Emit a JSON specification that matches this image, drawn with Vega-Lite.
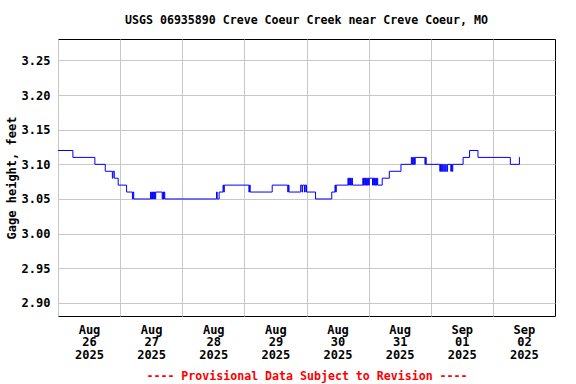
{
  "$schema": "https://vega.github.io/schema/vega-lite/v6.json",
  "width": 497,
  "height": 277,
  "autosize": {"type": "none"},
  "padding": {"left": 58, "top": 39, "right": 21, "bottom": 68},
  "background": "white",
  "title": {
    "text": "USGS 06935890 Creve Coeur Creek near Creve Coeur, MO",
    "font": "DejaVu Sans Mono",
    "fontWeight": "bold",
    "fontSize": 11.6,
    "color": "black",
    "anchor": "middle",
    "baseline": "alphabetic",
    "offset": 3
  },
  "config": {
    "view": {"stroke": "black", "strokeWidth": 1},
    "axis": {
      "labelFont": "DejaVu Sans Mono",
      "labelFontWeight": "bold",
      "labelFontSize": 12,
      "labelColor": "black",
      "titleFont": "DejaVu Sans Mono",
      "titleFontWeight": "bold",
      "titleFontSize": 12,
      "titleColor": "black",
      "gridColor": "#c8c8c8",
      "gridWidth": 1,
      "gridOpacity": 1,
      "ticks": false,
      "domain": false
    }
  },
  "data": {
    "values": [
      {"t": "2025-08-26T00:00", "v": 3.12},
      {"t": "2025-08-26T05:45", "v": 3.11},
      {"t": "2025-08-26T14:15", "v": 3.10},
      {"t": "2025-08-26T18:15", "v": 3.09},
      {"t": "2025-08-26T21:00", "v": 3.08},
      {"t": "2025-08-26T21:15", "v": 3.09},
      {"t": "2025-08-26T21:45", "v": 3.08},
      {"t": "2025-08-26T23:15", "v": 3.07},
      {"t": "2025-08-27T02:30", "v": 3.06},
      {"t": "2025-08-27T04:45", "v": 3.05},
      {"t": "2025-08-27T05:00", "v": 3.06},
      {"t": "2025-08-27T05:15", "v": 3.05},
      {"t": "2025-08-27T11:45", "v": 3.06},
      {"t": "2025-08-27T12:00", "v": 3.05},
      {"t": "2025-08-27T12:15", "v": 3.06},
      {"t": "2025-08-27T12:30", "v": 3.05},
      {"t": "2025-08-27T12:45", "v": 3.06},
      {"t": "2025-08-27T13:00", "v": 3.05},
      {"t": "2025-08-27T13:15", "v": 3.06},
      {"t": "2025-08-27T13:30", "v": 3.05},
      {"t": "2025-08-27T13:45", "v": 3.06},
      {"t": "2025-08-27T16:15", "v": 3.05},
      {"t": "2025-08-27T16:30", "v": 3.06},
      {"t": "2025-08-27T16:45", "v": 3.05},
      {"t": "2025-08-27T17:00", "v": 3.06},
      {"t": "2025-08-27T17:15", "v": 3.05},
      {"t": "2025-08-28T13:15", "v": 3.06},
      {"t": "2025-08-28T13:30", "v": 3.05},
      {"t": "2025-08-28T14:15", "v": 3.06},
      {"t": "2025-08-28T15:45", "v": 3.07},
      {"t": "2025-08-28T16:00", "v": 3.06},
      {"t": "2025-08-28T16:15", "v": 3.07},
      {"t": "2025-08-29T01:45", "v": 3.06},
      {"t": "2025-08-29T02:00", "v": 3.07},
      {"t": "2025-08-29T02:15", "v": 3.06},
      {"t": "2025-08-29T10:45", "v": 3.07},
      {"t": "2025-08-29T16:45", "v": 3.06},
      {"t": "2025-08-29T17:00", "v": 3.07},
      {"t": "2025-08-29T17:15", "v": 3.06},
      {"t": "2025-08-29T21:45", "v": 3.07},
      {"t": "2025-08-29T22:15", "v": 3.06},
      {"t": "2025-08-29T22:30", "v": 3.07},
      {"t": "2025-08-29T23:15", "v": 3.06},
      {"t": "2025-08-29T23:30", "v": 3.07},
      {"t": "2025-08-30T00:00", "v": 3.06},
      {"t": "2025-08-30T03:30", "v": 3.05},
      {"t": "2025-08-30T09:45", "v": 3.06},
      {"t": "2025-08-30T11:00", "v": 3.07},
      {"t": "2025-08-30T11:15", "v": 3.06},
      {"t": "2025-08-30T11:30", "v": 3.07},
      {"t": "2025-08-30T16:00", "v": 3.08},
      {"t": "2025-08-30T16:15", "v": 3.07},
      {"t": "2025-08-30T16:30", "v": 3.08},
      {"t": "2025-08-30T16:45", "v": 3.07},
      {"t": "2025-08-30T17:00", "v": 3.08},
      {"t": "2025-08-30T17:15", "v": 3.07},
      {"t": "2025-08-30T17:30", "v": 3.08},
      {"t": "2025-08-30T17:45", "v": 3.07},
      {"t": "2025-08-30T21:45", "v": 3.08},
      {"t": "2025-08-30T22:00", "v": 3.07},
      {"t": "2025-08-30T22:15", "v": 3.08},
      {"t": "2025-08-30T22:30", "v": 3.07},
      {"t": "2025-08-30T22:45", "v": 3.08},
      {"t": "2025-08-30T23:00", "v": 3.07},
      {"t": "2025-08-30T23:15", "v": 3.08},
      {"t": "2025-08-30T23:30", "v": 3.07},
      {"t": "2025-08-30T23:45", "v": 3.08},
      {"t": "2025-08-31T00:00", "v": 3.07},
      {"t": "2025-08-31T00:15", "v": 3.08},
      {"t": "2025-08-31T01:30", "v": 3.07},
      {"t": "2025-08-31T01:45", "v": 3.08},
      {"t": "2025-08-31T02:00", "v": 3.07},
      {"t": "2025-08-31T02:15", "v": 3.08},
      {"t": "2025-08-31T02:30", "v": 3.07},
      {"t": "2025-08-31T02:45", "v": 3.08},
      {"t": "2025-08-31T03:00", "v": 3.07},
      {"t": "2025-08-31T03:15", "v": 3.08},
      {"t": "2025-08-31T03:30", "v": 3.07},
      {"t": "2025-08-31T05:15", "v": 3.08},
      {"t": "2025-08-31T08:00", "v": 3.09},
      {"t": "2025-08-31T12:30", "v": 3.10},
      {"t": "2025-08-31T16:30", "v": 3.11},
      {"t": "2025-08-31T16:45", "v": 3.10},
      {"t": "2025-08-31T17:00", "v": 3.11},
      {"t": "2025-08-31T17:15", "v": 3.10},
      {"t": "2025-08-31T17:30", "v": 3.11},
      {"t": "2025-08-31T17:45", "v": 3.10},
      {"t": "2025-08-31T18:00", "v": 3.11},
      {"t": "2025-08-31T21:45", "v": 3.10},
      {"t": "2025-08-31T22:00", "v": 3.11},
      {"t": "2025-08-31T22:15", "v": 3.10},
      {"t": "2025-09-01T03:30", "v": 3.09},
      {"t": "2025-09-01T03:45", "v": 3.10},
      {"t": "2025-09-01T04:00", "v": 3.09},
      {"t": "2025-09-01T04:15", "v": 3.10},
      {"t": "2025-09-01T04:30", "v": 3.09},
      {"t": "2025-09-01T05:00", "v": 3.10},
      {"t": "2025-09-01T05:15", "v": 3.09},
      {"t": "2025-09-01T05:45", "v": 3.10},
      {"t": "2025-09-01T06:00", "v": 3.09},
      {"t": "2025-09-01T06:30", "v": 3.10},
      {"t": "2025-09-01T07:45", "v": 3.09},
      {"t": "2025-09-01T08:00", "v": 3.10},
      {"t": "2025-09-01T08:15", "v": 3.09},
      {"t": "2025-09-01T08:30", "v": 3.10},
      {"t": "2025-09-01T12:30", "v": 3.11},
      {"t": "2025-09-01T15:00", "v": 3.12},
      {"t": "2025-09-01T18:15", "v": 3.11},
      {"t": "2025-09-02T06:45", "v": 3.10},
      {"t": "2025-09-02T10:15", "v": 3.11},
      {"t": "2025-09-02T10:30", "v": 3.11}
    ]
  },
  "mark": {"type": "line", "interpolate": "step-after", "color": "#0000ff", "strokeWidth": 1},
  "encoding": {
    "x": {
      "field": "t",
      "type": "temporal",
      "scale": {
        "domain": [
          {"year": 2025, "month": 8, "date": 26},
          {"year": 2025, "month": 9, "date": 3}
        ],
        "nice": false
      },
      "axis": {
        "title": "---- Provisional Data Subject to Revision ----",
        "titleColor": "#ff0000",
        "titleFontSize": 11.6,
        "titlePadding": 10,
        "values": [
          {"year": 2025, "month": 8, "date": 26},
          {"year": 2025, "month": 8, "date": 27},
          {"year": 2025, "month": 8, "date": 28},
          {"year": 2025, "month": 8, "date": 29},
          {"year": 2025, "month": 8, "date": 30},
          {"year": 2025, "month": 8, "date": 31},
          {"year": 2025, "month": 9, "date": 1},
          {"year": 2025, "month": 9, "date": 2}
        ],
        "labelExpr": "[timeFormat(datum.value, '%b'), timeFormat(datum.value, '%d'), timeFormat(datum.value, '%Y')]",
        "labelOffset": 31,
        "labelAngle": 0,
        "labelAlign": "center",
        "labelBaseline": "top",
        "labelLineHeight": 12.5,
        "labelPadding": 8,
        "labelOverlap": false,
        "labelFlush": false,
        "grid": true
      }
    },
    "y": {
      "field": "v",
      "type": "quantitative",
      "scale": {"domain": [2.881, 3.281], "nice": false, "zero": false},
      "axis": {
        "title": "Gage height, feet",
        "values": [2.90, 2.95, 3.00, 3.05, 3.10, 3.15, 3.20, 3.25],
        "format": ".2f",
        "labelPadding": 8,
        "titlePadding": 3,
        "grid": true
      }
    }
  }
}
